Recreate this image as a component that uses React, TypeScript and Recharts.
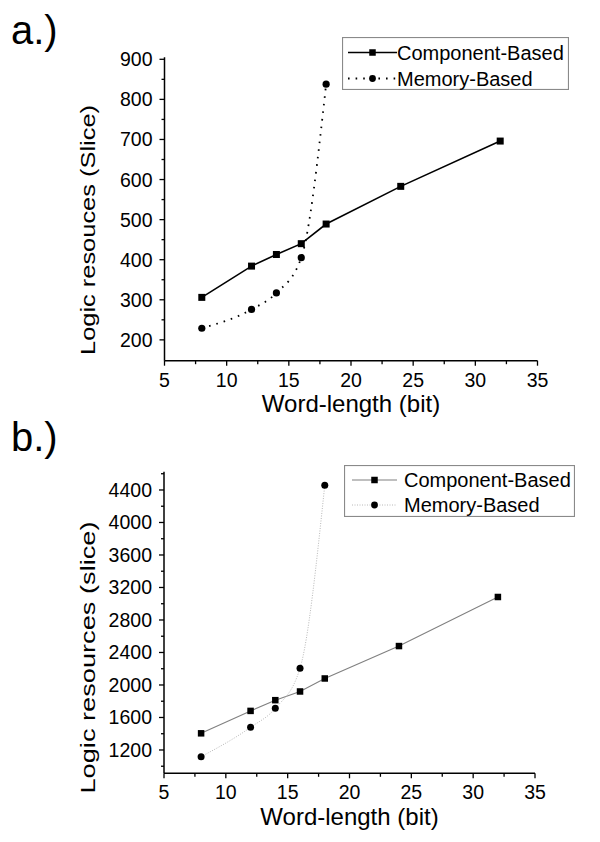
import { LineChart, Line, XAxis, YAxis, Legend } from 'recharts';

const FONT = '"Liberation Sans", Arial, sans-serif';

// word-length (bit)
const wordLength = [8, 12, 14, 16, 18, 24, 32];
// a.) logic resources (Slice)
const componentA = [306, 384, 413, 440, 489, 583, 696];
const memoryA = [229, 276, 317, 405, 838];
// b.) logic resources (slice)
const componentB = [1405, 1681, 1813, 1920, 2080, 2479, 3083];
const memoryB = [1118, 1479, 1713, 2207, 4458];

const xMajor = [5, 10, 15, 20, 25, 30, 35];
const xMinor = [7.5, 12.5, 17.5, 22.5, 27.5, 32.5];
const yMajorA = [200, 300, 400, 500, 600, 700, 800, 900];
const yMinorA = [250, 350, 450, 550, 650, 750, 850];
const yMajorB = [1200, 1600, 2000, 2400, 2800, 3200, 3600, 4000, 4400];
const yMinorB = [1000, 1400, 1800, 2200, 2600, 3000, 3400, 3800, 4200, 4600];

const buildRows = (comp: number[], mem: number[]) =>
  wordLength.map((x, i) => ({ x, comp: comp[i], mem: mem[i] }));

const dataA = buildRows(componentA, memoryA);
const dataB = buildRows(componentB, memoryB);

const sorted = (a: number[], b: number[]) => [...a, ...b].sort((p, q) => p - q);

function XTick(props: any) {
  const { x, y, payload } = props;
  const major = xMajor.includes(payload.value);
  return (
    <g>
      <line x1={x} y1={y} x2={x} y2={y + (major ? 5 : 3.5)} stroke="#000" strokeWidth={1.3} />
      {major && (
        <text x={x} y={y + 26} textAnchor="middle" fontSize={19.5} fontFamily={FONT} fill="#000">
          {payload.value}
        </text>
      )}
    </g>
  );
}

const makeYTick = (majors: number[]) => (props: any) => {
  const { x, y, payload } = props;
  const major = majors.includes(payload.value);
  return (
    <g>
      <line x1={x} y1={y} x2={x - (major ? 5 : 3)} y2={y} stroke="#000" strokeWidth={1.3} />
      {major && (
        <text x={x - 12} y={y + 7} textAnchor="end" fontSize={19.5} fontFamily={FONT} fill="#000">
          {payload.value}
        </text>
      )}
    </g>
  );
};

const squareDot = (size: number) => (props: any) => {
  const { cx, cy, index } = props;
  if (cy == null || isNaN(cy)) return <g key={`s${index}`} />;
  return <rect key={`s${index}`} x={cx - size / 2} y={cy - size / 2} width={size} height={size} fill="#000" />;
};

const circleDot = (r: number) => (props: any) => {
  const { cx, cy, index } = props;
  if (cy == null || isNaN(cy)) return <g key={`c${index}`} />;
  return <circle key={`c${index}`} cx={cx} cy={cy} r={r} fill="#000" />;
};

interface LegendRow {
  label: string;
  stroke: string;
  width: number;
  dash?: string;
  marker: 'square' | 'circle';
}

function LegendBox({ w, h, rows, rowY, lineX, textX }: { w: number; h: number; rows: LegendRow[]; rowY: number[]; lineX: [number, number]; textX: number }) {
  const mid = (lineX[0] + lineX[1]) / 2;
  return (
    <svg width={w} height={h} style={{ display: 'block' }}>
      <rect x={0.5} y={0.5} width={w - 1} height={h - 1} fill="#fff" stroke="#8a8a8a" strokeWidth={1.2} />
      {rows.map((r, i) => (
        <g key={r.label}>
          <line x1={lineX[0]} y1={rowY[i]} x2={lineX[1]} y2={rowY[i]} stroke={r.stroke} strokeWidth={r.width} strokeDasharray={r.dash} />
          {r.marker === 'square' ? (
            <rect x={mid - 3.25} y={rowY[i] - 3.25} width={6.5} height={6.5} fill="#000" />
          ) : (
            <circle cx={mid} cy={rowY[i]} r={3.4} fill="#000" />
          )}
          <text x={textX} y={rowY[i] + 7} fontSize={20} fontFamily={FONT} fill="#000">
            {r.label}
          </text>
        </g>
      ))}
    </svg>
  );
}

const xTitle = (baseline: number) => (props: any) => {
  const vb = props.viewBox || {};
  return (
    <text x={vb.x + vb.width / 2} y={vb.y + baseline} textAnchor="middle" fontSize={24} fontFamily={FONT} fill="#000">
      Word-length (bit)
    </text>
  );
};

const yTitle = (text: string, cx: number, cy: number, len: number) => () => (
  <text
    x={cx}
    y={cy}
    transform={`rotate(-90, ${cx}, ${cy})`}
    textAnchor="middle"
    fontSize={21}
    fontFamily={FONT}
    fill="#000"
    textLength={len}
    lengthAdjust="spacingAndGlyphs"
  >
    {text}
  </text>
);

export default function App() {
  return (
    <div style={{ position: 'relative', width: 600, height: 842, margin: -8, overflow: 'hidden', background: '#fff', fontFamily: FONT }}>
      <svg width={600} height={842} style={{ position: 'absolute', left: 0, top: 0 }}>
        <text x={11} y={44} fontSize={40} fontFamily={FONT} fill="#000">a.)</text>
        <text x={11} y={451} fontSize={40} fontFamily={FONT} fill="#000">b.)</text>
      </svg>

      <div style={{ position: 'absolute', left: 0, top: 0 }}>
        <LineChart width={600} height={430} data={dataA} margin={{ top: 57.3, right: 62.5, bottom: 0, left: 0 }}>
          <XAxis
            type="number"
            dataKey="x"
            domain={[5, 35]}
            ticks={sorted(xMajor, xMinor)}
            interval={0}
            tickSize={0}
            tickMargin={0}
            tickLine={false}
            tick={XTick}
            height={69.3}
            axisLine={{ stroke: '#000', strokeWidth: 1.5 }}
            label={{ content: xTitle(51.3) }}
          />
          <YAxis
            type="number"
            domain={[148, 905]}
            ticks={sorted(yMajorA, yMinorA)}
            interval={0}
            tickSize={0}
            tickMargin={0}
            tickLine={false}
            tick={makeYTick(yMajorA)}
            width={164.5}
            axisLine={{ stroke: '#000', strokeWidth: 1.5 }}
            label={{ content: yTitle('Logic resouces (Slice)', 95, 230, 250) }}
          />
          <Legend
            layout="horizontal"
            verticalAlign="middle"
            align="center"
            wrapperStyle={{ left: 342, top: 37, width: 227, height: 53 }}
            content={() => (
              <LegendBox
                w={227}
                h={53}
                rowY={[15.5, 41.5]}
                lineX={[6, 55]}
                textX={55}
                rows={[
                  { label: 'Component-Based', stroke: '#000', width: 1.6, marker: 'square' },
                  { label: 'Memory-Based', stroke: '#000', width: 1.8, dash: '1.6 6', marker: 'circle' },
                ]}
              />
            )}
          />
          <Line type="linear" dataKey="comp" stroke="#000" strokeWidth={1.6} dot={squareDot(7)} isAnimationActive={false} />
          <Line type="monotone" dataKey="mem" stroke="#000" strokeWidth={1.8} strokeDasharray="1.6 6" dot={circleDot(3.6)} isAnimationActive={false} />
        </LineChart>
      </div>

      <div style={{ position: 'absolute', left: 0, top: 420 }}>
        <LineChart width={600} height={430} data={dataB} margin={{ top: 51.7, right: 65, bottom: 0, left: 0 }}>
          <XAxis
            type="number"
            dataKey="x"
            domain={[5, 35]}
            ticks={sorted(xMajor, xMinor)}
            interval={0}
            tickSize={0}
            tickMargin={0}
            tickLine={false}
            tick={XTick}
            height={76.7}
            axisLine={{ stroke: '#000', strokeWidth: 1.5 }}
            label={{ content: xTitle(51.5) }}
          />
          <YAxis
            type="number"
            domain={[913, 4625]}
            ticks={sorted(yMajorB, yMinorB)}
            interval={0}
            tickSize={0}
            tickMargin={0}
            tickLine={false}
            tick={makeYTick(yMajorB)}
            width={164}
            axisLine={{ stroke: '#000', strokeWidth: 1.5 }}
            label={{ content: yTitle('Logic resources (slice)', 95, 237.5, 272) }}
          />
          <Legend
            layout="horizontal"
            verticalAlign="middle"
            align="center"
            wrapperStyle={{ left: 344, top: 45, width: 231, height: 52 }}
            content={() => (
              <LegendBox
                w={231}
                h={52}
                rowY={[15, 40]}
                lineX={[8, 53]}
                textX={60}
                rows={[
                  { label: 'Component-Based', stroke: '#808080', width: 1.1, marker: 'square' },
                  { label: 'Memory-Based', stroke: '#b8b8b8', width: 1, dash: '1 1.5', marker: 'circle' },
                ]}
              />
            )}
          />
          <Line type="linear" dataKey="comp" stroke="#808080" strokeWidth={1.1} dot={squareDot(6.5)} isAnimationActive={false} />
          <Line type="monotone" dataKey="mem" stroke="#b8b8b8" strokeWidth={1} strokeDasharray="1 1.5" dot={circleDot(3.5)} isAnimationActive={false} />
        </LineChart>
      </div>
    </div>
  );
}
